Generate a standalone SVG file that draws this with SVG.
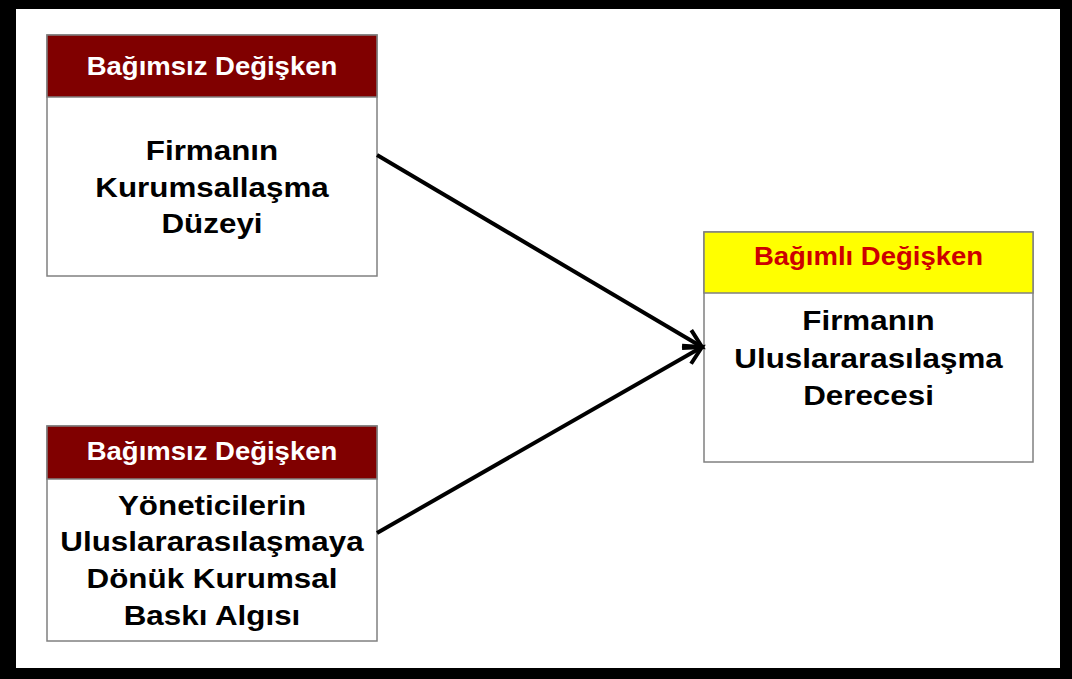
<svg xmlns="http://www.w3.org/2000/svg" width="1072" height="679" viewBox="0 0 1072 679">
<style>
.hdr{font-family:"Liberation Sans",Arial,sans-serif;font-weight:bold;font-size:25px;text-anchor:middle}
.body{font-family:"Liberation Sans",Arial,sans-serif;font-weight:bold;font-size:28px;text-anchor:middle;fill:#000}
.box{fill:#fff;stroke:#808080;stroke-width:1.5}
.hbox{fill:#800000;stroke:#808080;stroke-width:1.5}
.ybox{fill:#ffff00;stroke:#808080;stroke-width:1.5}
.conn{stroke:#000;stroke-width:4;fill:none}
</style>
<defs>
<marker id="arr" markerUnits="userSpaceOnUse" markerWidth="40" markerHeight="40" viewBox="-25 -20 40 40" refX="0" refY="0" orient="auto" overflow="visible">
<path d="M-17.8,-9.1 L0,0 L-17.8,9.1" fill="none" stroke="#000" stroke-width="4" stroke-linejoin="miter"/>
</marker>
</defs>
<rect x="0" y="0" width="1072" height="679" fill="#000"/>
<rect x="16" y="9" width="1044" height="659" fill="#fff"/>
<g id="node1">
<rect class="box" x="47" y="35" width="330" height="241"/>
<rect class="hbox" x="47" y="35" width="330" height="62"/>
<text class="hdr" fill="#fff" transform="translate(212,75) scale(1.1,1)">Bağımsız Değişken</text>
<text class="body" transform="translate(212,160) scale(1.12,1)">Firmanın</text>
<text class="body" transform="translate(212,197) scale(1.12,1)">Kurumsallaşma</text>
<text class="body" transform="translate(212,233) scale(1.12,1)">Düzeyi</text>
</g>
<g id="node2">
<rect class="box" x="47" y="426" width="330" height="215"/>
<rect class="hbox" x="47" y="426" width="330" height="53"/>
<text class="hdr" fill="#fff" transform="translate(212,460) scale(1.1,1)">Bağımsız Değişken</text>
<text class="body" transform="translate(212,515) scale(1.12,1)">Yöneticilerin</text>
<text class="body" transform="translate(212,551) scale(1.12,1)">Uluslararasılaşmaya</text>
<text class="body" transform="translate(212,588) scale(1.12,1)">Dönük Kurumsal</text>
<text class="body" transform="translate(212,625) scale(1.12,1)">Baskı Algısı</text>
</g>
<g id="node3">
<rect class="box" x="704" y="232" width="329" height="230"/>
<rect class="ybox" x="704" y="232" width="329" height="61"/>
<text class="hdr" fill="#cc0000" transform="translate(868.5,265) scale(1.1,1)">Bağımlı Değişken</text>
<text class="body" transform="translate(868.5,330) scale(1.12,1)">Firmanın</text>
<text class="body" transform="translate(868.5,368) scale(1.12,1)">Uluslararasılaşma</text>
<text class="body" transform="translate(868.5,405) scale(1.12,1)">Derecesi</text>
</g>
<g id="connectors">
<line class="conn" x1="377" y1="155" x2="702" y2="347" marker-end="url(#arr)"/>
<line class="conn" x1="377" y1="533" x2="702" y2="347" marker-end="url(#arr)"/>
</g>
</svg>
